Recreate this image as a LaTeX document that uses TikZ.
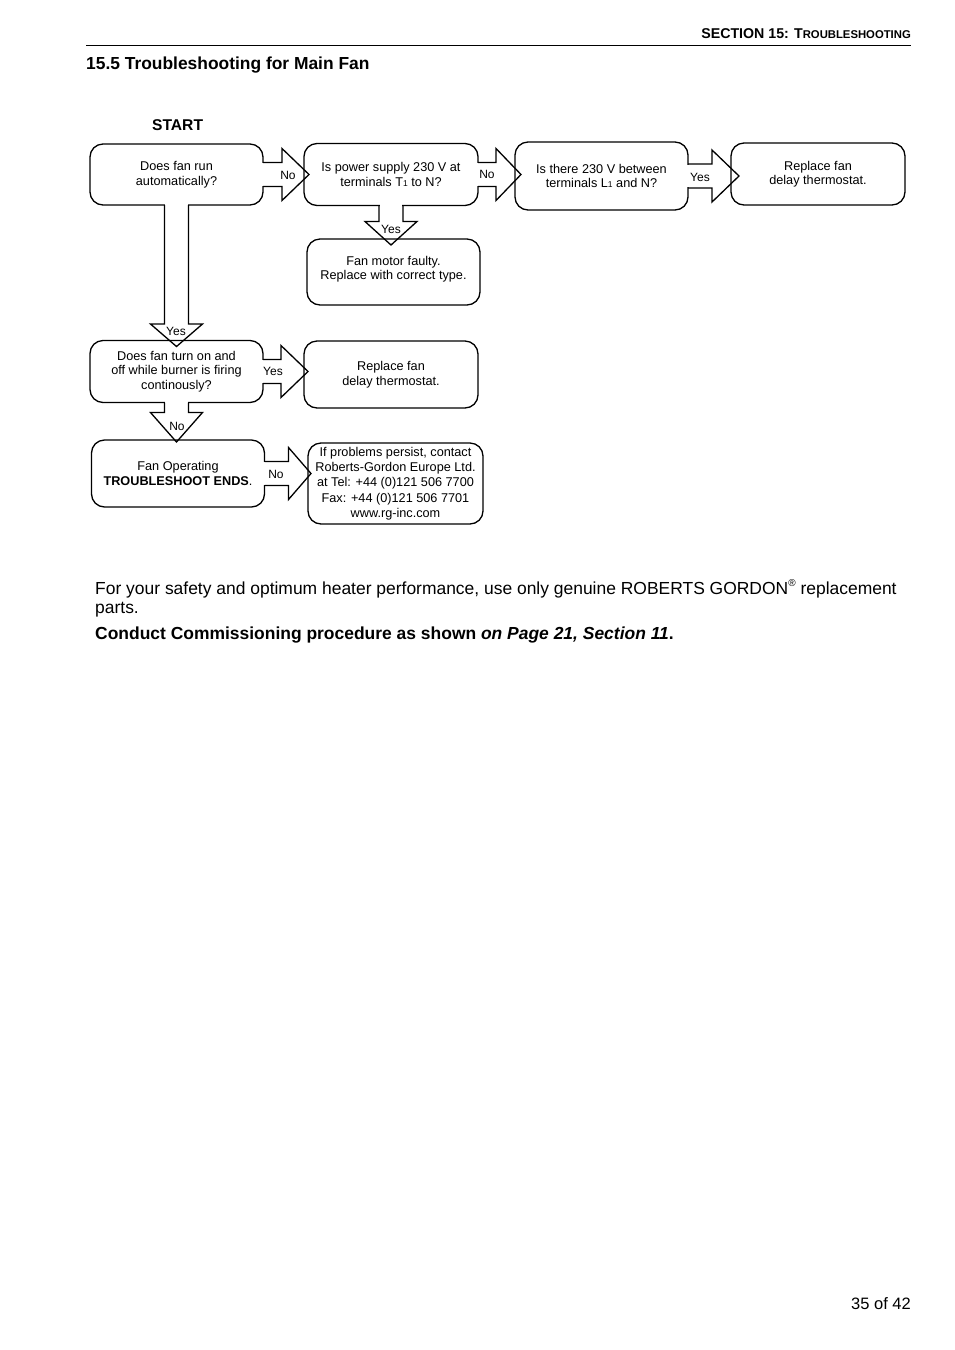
\documentclass[tikz,border=0pt]{standalone}
\usepackage{fontspec}
\setmainfont{Liberation Sans}
\usetikzlibrary{calc}
\newcommand\boxfont{\fontsize{12.7}{14.5}\selectfont}
\newcommand\lblfont{\fontsize{12}{13}\selectfont}
\newcommand\subone{{\fontsize{8.5}{8}\selectfont 1}}
\tikzset{
  fbox/.style={draw, line width=1.3pt, rounded corners=13pt, outer sep=0pt, inner sep=0pt, align=center, font=\boxfont},
  blockarrow/.style={draw, line width=1.3pt, line join=miter},
  lbl/.style={font=\lblfont, inner sep=0pt}
}
% horizontal block arrow: from, to, head offset, overshoot
\newcommand\hblock[4]{%
  \fill[white] ($(#1.east)+(-1.6,-11.2)$) rectangle ($(#1.east)+(1.6,11.2)$);
  \draw[blockarrow] ($(#1.east)+(0,-12)$) -- ++(#3,0) -- ++(0,-14)
    -- ($(#2.west |- #1.east)+(#4,0)$) -- ($(#1.east)+(#3,26)$) -- ++(0,-14) -- ($(#1.east)+(0,12)$);
}
% vertical block arrow: from, to, head offset, overshoot
\newcommand\vblock[4]{%
  \fill[white] ($(#1.south)+(-11.2,-1.6)$) rectangle ($(#1.south)+(11.2,1.6)$);
  \draw[blockarrow] ($(#1.south)+(-12,0)$) -- ++(0,#3) -- ++(-14,0)
    -- ($(#1.south |- #2.north)+(0,#4)$) -- ($(#1.south)+(26,#3)$) -- ++(-14,0) -- ($(#1.south)+(12,0)$);
}
\begin{document}
\begin{tikzpicture}[x=1pt,y=-1pt]
\useasboundingbox[fill=white] (0,0) rectangle (954,1350);

% page header
\node[anchor=base east, inner sep=0pt, font=\bfseries] (hdr) at (911,38)
  {\fontsize{14.2}{16}\selectfont SECTION 15: T\fontsize{11.3}{13}\selectfont ROUBLESHOOTING};
\coordinate (rulel) at (86,45);
\coordinate (ruler) at (911,45);
\draw[line width=1pt] (rulel) -- (ruler);
\node[anchor=base west, inner sep=0pt, font=\bfseries\fontsize{17.4}{20}\selectfont] (title) at (86,69)
  {15.5 Troubleshooting for Main Fan};
\node[anchor=base west, inner sep=0pt, font=\bfseries\fontsize{15.6}{18}\selectfont] (start) at (152,130.6) {START};

% boxes
\node[fbox, minimum width=173pt, minimum height=61pt] (b1) at (176.5,174.5)
  {Does fan run\\automatically?};
\node[fbox, minimum width=174pt, minimum height=62pt] (b2) at (391,174.5)
  {Is power supply 230 V at\\terminals T\subone\ to N?};
\node[fbox, minimum width=173pt, minimum height=68pt] (b3) at (601.5,176)
  {Is there 230 V between\\terminals L\subone\ and N?};
\node[fbox, minimum width=174pt, minimum height=62pt] (b4) at (818,174)
  {Replace fan\\delay thermostat.};
\node[fbox, minimum width=173pt, minimum height=66pt] (b5) at (393.5,272)
  {Fan motor faulty.\\Replace with correct type.\\[-6.5pt]};
\node[fbox, minimum width=173pt, minimum height=62pt] (b6) at (176.5,371.5)
  {Does fan turn on and\\off while burner is firing\\continously?};
\node[fbox, minimum width=174pt, minimum height=67pt] (b7) at (391,374.5)
  {Replace fan\\delay thermostat.};
\node[fbox, minimum width=173pt, minimum height=67pt] (b8) at (178,473.5)
  {Fan Operating\\\textbf{TROUBLESHOOT ENDS}.};
\node[fbox, minimum width=175pt, minimum height=81pt, font=\fontsize{12.7}{15.3}\selectfont] (b9) at (395.5,483.5)
  {If problems persist, contact\\Roberts-Gordon Europe Ltd.\\at Tel: +44 (0)121 506 7700\\Fax: +44 (0)121 506 7701\\www.rg-inc.com};

% block arrows
\hblock{b1}{b2}{19}{5}
\hblock{b2}{b3}{18}{6}
\hblock{b3}{b4}{24}{8}
\hblock{b6}{b7}{18}{4}
\hblock{b8}{b9}{24}{3}
\vblock{b1}{b6}{119}{6}
\vblock{b2}{b5}{16}{6}
\vblock{b6}{b8}{10}{2}

% arrow labels
\node[lbl] (l12) at (288,175) {No};
\node[lbl] (l23) at (487,174) {No};
\node[lbl] (l34) at (700,177) {Yes};
\node[lbl] (l25) at (391,229) {Yes};
\node[lbl] (l16) at (176,331) {Yes};
\node[lbl] (l67) at (273,371) {Yes};
\node[lbl] (l68) at (177,426) {No};
\node[lbl] (l89) at (276,474) {No};

% body text
\node[anchor=base west, inner sep=0pt, font=\fontsize{17.45}{20}\selectfont] (body1) at (95,594)
  {For your safety and optimum heater performance, use only genuine ROBERTS GORDON\raisebox{0.45em}{\fontsize{10}{10}\selectfont\textregistered} replacement};
\node[anchor=base west, inner sep=0pt, font=\fontsize{17.45}{20}\selectfont] (body2) at (95,613) {parts.};
\node[anchor=base west, inner sep=0pt, font=\bfseries\fontsize{17.45}{20}\selectfont] (comm) at (95,639)
  {Conduct Commissioning procedure as shown \textit{on Page 21, Section 11}.};

% page number
\node[anchor=base east, inner sep=0pt, font=\fontsize{16.5}{19}\selectfont] (pgno) at (911,1309) {35 of 42};
\end{tikzpicture}
\end{document}
